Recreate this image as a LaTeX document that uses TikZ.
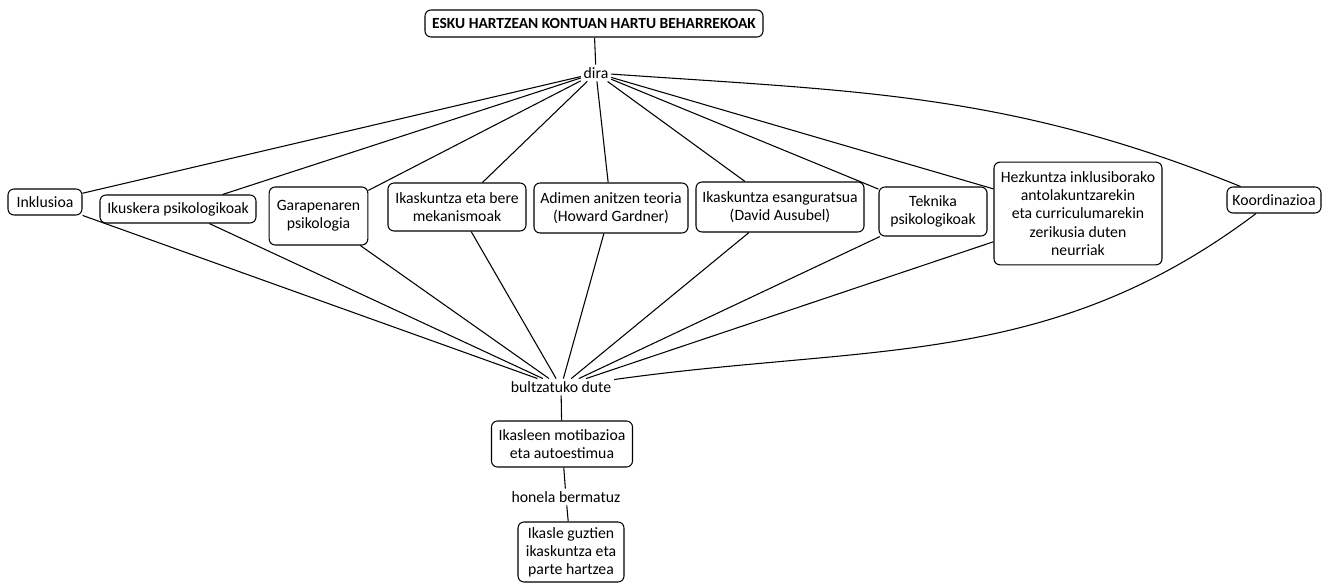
\documentclass[tikz,border=0pt]{standalone}
\usepackage{fontspec}
\setmainfont{Carlito}
\begin{document}
\begin{tikzpicture}[x=0.75pt,y=0.75pt,
	every node/.style={font=\fontsize{11.8}{13.6}\selectfont},
	box/.style={draw,rounded corners=4.5pt,line width=0.8pt,align=center,inner sep=1pt},
	word/.style={inner sep=2pt},
	link/.style={line width=0.8pt}]
	\useasboundingbox (0,0) rectangle (1325,-584);
	\node[box,font=\fontsize{11.6}{13.6}\selectfont\bfseries,minimum width=253.5pt,minimum height=20.25pt] (title) at (594,-23.5) {ESKU HARTZEAN KONTUAN HARTU BEHARREKOAK};
	\node[word] (dira) at (596,-73) {dira};
	\node[box,minimum width=55.5pt,minimum height=19.5pt] (inkl) at (45,-202) {Inklusioa};
	\node[box,minimum width=117pt,minimum height=21pt] (ikus) at (178,-209) {Ikuskera psikologikoak};
	\node[box,minimum width=74pt,minimum height=43.5pt] (gara) at (318.5,-216) {Garapenaren\\psikologia};
	\node[box,minimum width=103.5pt,minimum height=36pt] (meka) at (457,-207) {Ikaskuntza eta bere\\mekanismoak};
	\node[box,minimum width=115.5pt,minimum height=37.5pt] (adim) at (611,-208) {Adimen anitzen teoria\\(Howard Gardner)};
	\node[box,minimum width=126pt,minimum height=37.5pt] (esan) at (780,-207) {Ikaskuntza esanguratsua\\(David Ausubel)};
	\node[box,minimum width=81pt,minimum height=36.75pt] (tekn) at (933,-211.5) {Teknika\\psikologikoak};
	\node[box,minimum width=126pt,minimum height=77pt] (hezk) at (1078,-213.5) {Hezkuntza inklusiborako\\antolakuntzarekin\\eta curriculumarekin\\zerikusia duten\\neurriak};
	\node[box,minimum width=70.5pt,minimum height=19.5pt] (koor) at (1274,-200) {Koordinazioa};
	\node[word] (bult) at (561,-387) {bultzatuko dute};
	\node[box,minimum width=105.75pt,minimum height=34.5pt] (motib) at (562,-444) {Ikasleen motibazioa\\eta autoestimua};
	\node[word] (bermat) at (566,-497) {honela bermatuz};
	\node[box,minimum width=79.5pt,minimum height=45pt] (parte) at (571,-552) {Ikasle guztien\\ikaskuntza eta\\parte hartzea};

	\draw[link] (title) -- (dira);
	\draw[link] (dira) -- (inkl);
	\draw[link] (dira) -- (ikus);
	\draw[link] (dira) -- (gara);
	\draw[link] (dira) -- (meka);
	\draw[link] (dira) -- (adim);
	\draw[link] (dira) -- (esan);
	\draw[link] (dira) -- (tekn);
	\draw[link] (dira) -- (hezk);
	\draw[link] (dira) to[out=-4,in=158] (koor);
	\draw[link] (inkl) -- (bult);
	\draw[link] (ikus) -- (bult);
	\draw[link] (gara) -- (bult);
	\draw[link] (meka) -- (bult);
	\draw[link] (adim) -- (bult);
	\draw[link] (esan) -- (bult);
	\draw[link] (tekn) -- (bult);
	\draw[link] (hezk) -- (bult);
	\draw[link] (koor) to[out=217,in=8] (bult);
	\draw[link] (bult) -- (motib);
	\draw[link] (motib) -- (bermat);
	\draw[link] (bermat) -- (parte);
\end{tikzpicture}
\end{document}
